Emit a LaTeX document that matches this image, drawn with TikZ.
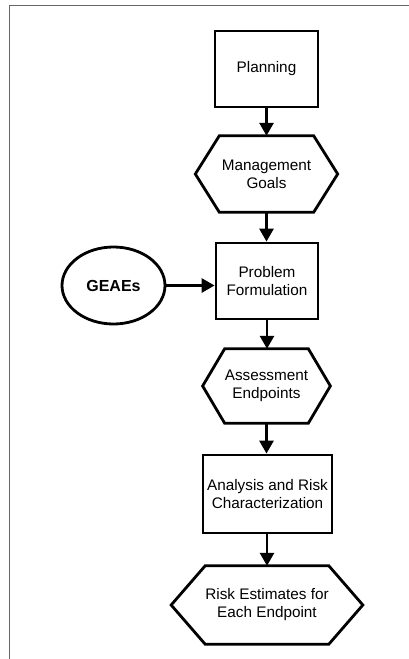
\documentclass[tikz,border=0pt]{standalone}
\usepackage{fontspec}
\setmainfont{Liberation Sans}
\usetikzlibrary{arrows.meta,shapes.geometric}
\newcommand\hexout[2]{\draw[shapeline] (#1.north west) -- (#1.north east) -- ([xshift=#2]#1.east) -- (#1.south east) -- (#1.south west) -- ([xshift=-#2]#1.west) -- cycle;}
\tikzset{
  shapeline/.style={line width=2.8pt, line join=miter, black},
  boxnode/.style={rectangle, draw, line width=2.8pt, align=center, inner sep=0pt,
    font=\fontsize{15.3}{18}\selectfont},
  hexnode/.style={rectangle, draw=none, align=center, inner sep=0pt,
    font=\fontsize{15.3}{18}\selectfont},
  ovalnode/.style={ellipse, draw, line width=2.8pt, inner sep=0pt,
    font=\fontsize{16}{19}\selectfont\bfseries},
  flow/.style={line width=2.8pt, -{Triangle[length=13pt,width=14pt]}},
  frameline/.style={line width=1.5pt, black!60}
}
\begin{document}
\begin{tikzpicture}[x=1pt,y=-1pt]
\useasboundingbox (0,0) rectangle (409,659);
\draw[frameline] (409,5.5) -- (9.5,5.5) -- (9.5,659);

\node[boxnode, minimum width=103pt, minimum height=76pt] (plan) at (266.5,69) {Planning};
\node[hexnode, minimum width=94pt, minimum height=76pt] (mgmt) at (266.5,174) {Management\\Goals};
\hexout{mgmt}{24pt}
\node[boxnode, minimum width=102pt, minimum height=76pt] (prob) at (267,281) {Problem\\Formulation};
\node[ovalnode, minimum width=103pt, minimum height=77pt] (geaes) at (113.5,285.5) {GEAEs};
\node[hexnode, minimum width=72pt, minimum height=74pt] (assess) at (266.5,386) {Assessment\\Endpoints};
\hexout{assess}{22pt}
\node[boxnode, minimum width=129pt, minimum height=78pt] (anal) at (267.5,494) {Analysis and Risk\\Characterization};
\node[hexnode, minimum width=100pt, minimum height=78pt] (risk) at (267,605) {Risk Estimates for\\Each Endpoint};
\hexout{risk}{34pt}

\draw[flow] (plan.south) -- (mgmt.north);
\draw[flow] (mgmt.south) -- (mgmt.south |- prob.north);
\draw[flow] (prob.south) -- (prob.south |- assess.north);
\draw[flow] (assess.south) -- (assess.south |- anal.north);
\draw[flow] (anal.south -| risk.north) -- (risk.north);
\draw[flow] (geaes.east) -- (geaes.east -| prob.west);
\end{tikzpicture}
\end{document}
